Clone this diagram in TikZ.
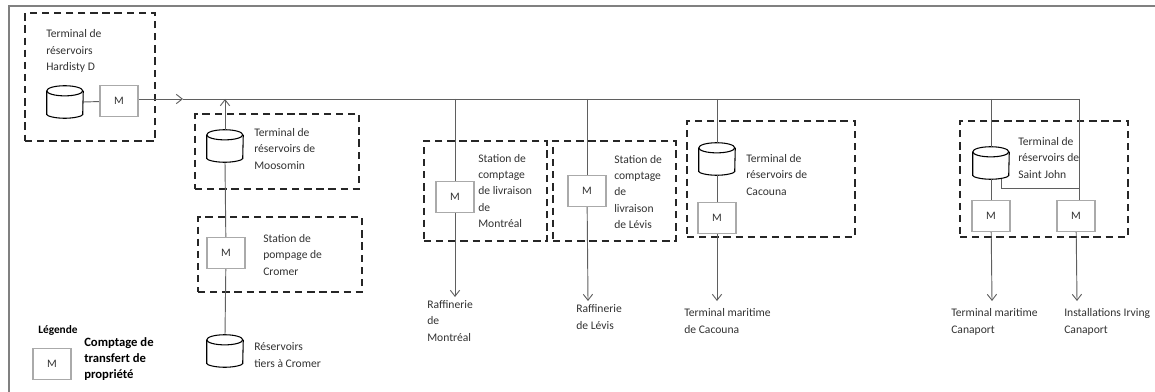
\documentclass[tikz,border=0pt]{standalone}
\usepackage{fontspec}
\setmainfont{Carlito}
\usetikzlibrary{arrows.meta,fit}
\definecolor{linegray}{RGB}{95,95,95}
\definecolor{boxgray}{RGB}{170,170,170}
\definecolor{textgray}{RGB}{50,50,50}

% a storage tank: an empty node, then its outline around it
\newcommand{\tanknode}[2]{%
  \node[tank] (#1) at (#2) {};
  \draw[tankline] ([yshift=-3.8pt]#1.north west) arc[start angle=180, end angle=-180, x radius=13.5pt, y radius=3.8pt];
  \draw[tankline, rounded corners=1pt] ([yshift=-3.8pt]#1.north west) -- ([yshift=3.8pt]#1.south west) arc[start angle=180, end angle=360, x radius=13.5pt, y radius=3.8pt] -- ([yshift=-3.8pt]#1.north east);
}

\begin{document}
\begin{tikzpicture}[
  x=0.75pt, y=-0.75pt,
  dashbox/.style={rectangle, draw=black!85, line width=1.4pt, dash pattern=on 5.5pt off 3.6pt, inner sep=0pt},
  meter/.style={rectangle, draw=boxgray, line width=0.8pt, fill=white, text=black!80, minimum width=28.5pt, minimum height=23pt, inner sep=0pt, font=\fontsize{8.5}{10}\selectfont},
  tank/.style={rectangle, minimum width=27pt, minimum height=24pt, inner sep=0pt},
  tankline/.style={draw=black, line width=0.8pt},
  lbl/.style={anchor=west, align=left, inner sep=0pt, text=textgray, font=\fontsize{8.7}{12.25}\selectfont},
  pipe/.style={draw=linegray, line width=0.7pt},
  arr/.style={pipe, -{Straight Barb[length=4.5pt,width=7pt]}}
]
\useasboundingbox (0,0) rectangle (1155,392);
\draw[draw=gray, line width=1pt] (9,392) -- (9,6) -- (1155,6);

% free ends of the connectors
\coordinate (mainend) at (1079,99);
\coordinate (mainmid) at (183,99);
\coordinate (montrealend) at (455,297);
\coordinate (levisend) at (588,301);
\coordinate (cacounaend) at (717,301);
\coordinate (canaportend) at (992,301);
\coordinate (irvingend) at (1077,301);
\coordinate (stjohnjoin) at (1079,188);

% terminals and stations
\node[meter] (hardistyM) at (119,101) {M};
\tanknode{hardistyT}{65,102}
\tanknode{moosominT}{225,146}
\node[meter] (cromerM) at (226,253) {M};
\tanknode{cromerT}{225,351}
\node[meter] (montrealM) at (455,197) {M};
\node[meter] (levisM) at (587,191) {M};
\tanknode{cacounaT}{717,159}
\node[meter] (cacounaM) at (717,218) {M};
\tanknode{stjohnT}{991,163}
\node[meter] (canaportM) at (991,216) {M};
\node[meter] (irvingM) at (1076,216) {M};
\node[meter] (legendM) at (52,364) {M};

% dashed boxes
\node[dashbox, fit={(25,13) (155,141)}] (hardistyBox) {};
\node[dashbox, fit={(195,114) (359,189)}] (moosominBox) {};
\node[dashbox, fit={(198,217) (362,292)}] (cromerBox) {};
\node[dashbox, fit={(424,141) (547,241)}] (montrealBox) {};
\node[dashbox, fit={(553,141) (676,241)}] (levisBox) {};
\node[dashbox, fit={(687,121) (855,237)}] (cacounaBox) {};
\node[dashbox, fit={(960,121) (1128,237)}] (stjohnBox) {};

% labels
\node[lbl] (hardistyL) at (46,51) {Terminal de\\réservoirs\\Hardisty D};
\node[lbl] (moosominL) at (254,149) {Terminal de\\réservoirs de\\Moosomin};
\node[lbl] (cromerL) at (263,255) {Station de\\pompage de\\Cromer};
\node[lbl] (tiersL) at (254,355) {Réservoirs\\tiers à Cromer};
\node[lbl] (montrealL) at (478,191) {Station de\\comptage\\de livraison\\de\\Montréal};
\node[lbl] (levisL) at (614,192) {Station de\\comptage\\de\\livraison\\de Lévis};
\node[lbl] (cacounaL) at (746,175) {Terminal de\\réservoirs de\\Cacouna};
\node[lbl] (stjohnL) at (1018,158) {Terminal de\\réservoirs de\\Saint John};
\node[lbl] (rafmontrealL) at (427,321) {Raffinerie\\de\\Montréal};
\node[lbl] (raflevisL) at (576,317) {Raffinerie\\de Lévis};
\node[lbl] (marcacounaL) at (684,321) {Terminal maritime\\de Cacouna};
\node[lbl] (marcanaportL) at (951,322) {Terminal maritime\\Canaport};
\node[lbl] (irvingL) at (1064,322) {Installations Irving\\Canaport};
\node[lbl, text=black, font=\fontsize{8.5}{10}\bfseries\selectfont] (legendL) at (38,330) {Légende};
\node[lbl, text=black, font=\fontsize{9.5}{12.25}\bfseries\selectfont] (legendT) at (84,359) {Comptage de\\transfert de\\propriété};

% main line
\draw[pipe] (hardistyT.east) -- (hardistyM);
\draw[arr] (hardistyM.east |- mainend) -- (mainmid);
\draw[pipe] (mainmid) -- (mainend);

% Moosomin and Cromer
\draw[arr] (moosominT.north) -- (moosominT.north |- mainend);
\draw[pipe] (moosominT.south) -- (cromerM);
\draw[pipe] (cromerM) -- (cromerT.north);

% deliveries
\draw[pipe] (montrealM |- mainend) -- (montrealM);
\draw[arr] (montrealM) -- (montrealend);
\draw[pipe] (levisM |- mainend) -- (levisM);
\draw[arr] (levisM) -- (levisend);
\draw[pipe] (cacounaT.north |- mainend) -- (cacounaT.north);
\draw[pipe] (cacounaT.south) -- (cacounaM);
\draw[arr] (cacounaM) -- (cacounaend);

% Saint John
\draw[pipe] (canaportM |- mainend) -- (stjohnT.north);
\draw[pipe] (stjohnT.south) -- (canaportM);
\draw[arr] (canaportM) -- (canaportend);
\draw[pipe] (mainend) -- (mainend |- irvingM.north);
\draw[pipe] ([xshift=8pt]stjohnT.south) |- (stjohnjoin);
\draw[arr] (irvingM) -- (irvingend);

% redraw meters over the pipes
\node[meter] at (hardistyM) {M};
\node[meter] at (cromerM) {M};
\node[meter] at (montrealM) {M};
\node[meter] at (levisM) {M};
\node[meter] at (cacounaM) {M};
\node[meter] at (canaportM) {M};
\node[meter] at (irvingM) {M};
\end{tikzpicture}
\end{document}
